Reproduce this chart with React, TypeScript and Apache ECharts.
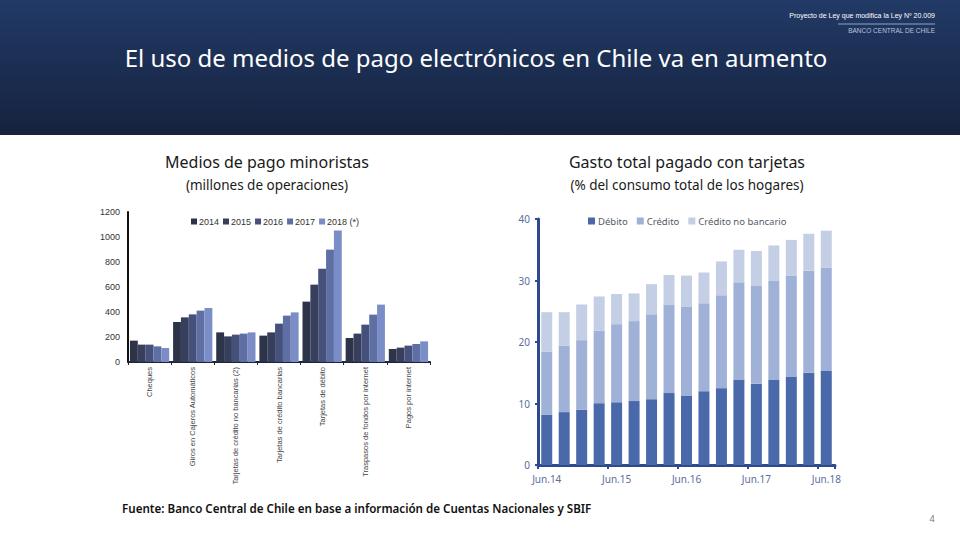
import React, { useEffect, useRef } from "react";
import * as echarts from "echarts";

const leftCategories = [
  "Cheques",
  "Giros en Cajeros Automáticos",
  "Tarjetas de crédito no bancarias (2)",
  "Tarjetas de crédito bancarias",
  "Tarjetas de débito",
  "Traspasos de fondos por internet",
  "Pagos por internet",
];
const leftYears = ["2014", "2015", "2016", "2017", "2018 (*)"];
const v2014 = [171, 320, 237, 211, 483, 192, 104];
const v2015 = [139, 357, 205, 237, 619, 227, 115];
const v2016 = [139, 381, 219, 307, 747, 299, 131];
const v2017 = [125, 411, 227, 371, 899, 379, 144];
const v2018 = [112, 432, 237, 397, 1053, 459, 165];
const leftColors = ["#2d3348", "#373f5d", "#46517b", "#5e6fa4", "#7b8dc7"];

const quarters = [
  "Jun.14", "Sep.14", "Dic.14", "Mar.15",
  "Jun.15", "Sep.15", "Dic.15", "Mar.16",
  "Jun.16", "Sep.16", "Dic.16", "Mar.17",
  "Jun.17", "Sep.17", "Dic.17", "Mar.18",
  "Jun.18",
];
const debito = [8.2, 8.6, 9.0, 10.05, 10.2, 10.4, 10.7, 11.7, 11.3, 12.0, 12.5, 13.9, 13.2, 13.9, 14.4, 15.0, 15.3];
const credito = [10.2, 10.8, 11.3, 11.75, 12.7, 13.0, 13.8, 14.3, 14.4, 14.3, 15.1, 15.8, 15.9, 16.0, 16.4, 16.6, 16.8];
const creditoNoBancario = [6.45, 5.45, 5.8, 5.6, 4.9, 4.5, 4.9, 4.9, 5.1, 5.0, 5.5, 5.3, 5.7, 5.8, 5.8, 6.0, 6.0];
const rightSeriesNames = ["Débito", "Crédito", "Crédito no bancario"];
const rightColors = ["#4a69aa", "#a0b1d7", "#c4cee5"];

const FONT = "'Noto Sans', 'Open Sans', sans-serif";
const ARIAL = "'Liberation Sans', Arial, sans-serif";

export default function App() {
  const ref = useRef<HTMLDivElement>(null);
  useEffect(() => {
    if (!ref.current) return;
    const chart = echarts.init(ref.current, null, { renderer: "svg" });
    const leftData = [v2014, v2015, v2016, v2017, v2018];
    const rightData = [debito, credito, creditoNoBancario];
    chart.setOption({
      animation: false,
      backgroundColor: "#ffffff",
      graphic: [
        {
          type: "rect",
          shape: { x: 0, y: 0, width: 960, height: 135 },
          style: {
            fill: new echarts.graphic.LinearGradient(0, 0, 0, 1, [
              { offset: 0, color: "#213a66" },
              { offset: 1, color: "#16223e" },
            ]),
          },
          z: 0,
        },
        {
          type: "text",
          x: 935, y: 15,
          style: { text: "Proyecto de Ley que modifica la Ley Nº 20.009", fill: "#ffffff", font: `7px ${ARIAL}`, textAlign: "right", textVerticalAlign: "middle" },
        },
        {
          type: "line",
          shape: { x1: 838, y1: 24, x2: 935, y2: 24 },
          style: { stroke: "#8ea5c9", lineWidth: 1 },
        },
        {
          type: "text",
          x: 935, y: 30,
          style: { text: "BANCO CENTRAL DE CHILE", fill: "#b9c4d8", font: `6.5px ${ARIAL}`, textAlign: "right", textVerticalAlign: "middle" },
        },
        {
          type: "text",
          x: 476, y: 57,
          style: { text: "El uso de medios de pago electrónicos en Chile va en aumento", fill: "#ffffff", font: `24px ${FONT}`, textAlign: "center", textVerticalAlign: "middle" },
        },
        {
          type: "text",
          x: 267, y: 162,
          style: { text: "Medios de pago minoristas", fill: "#1a1a1a", font: `16px ${FONT}`, textAlign: "center", textVerticalAlign: "middle" },
        },
        {
          type: "text",
          x: 267, y: 185,
          style: { text: "(millones de operaciones)", fill: "#1a1a1a", font: `13.5px ${FONT}`, textAlign: "center", textVerticalAlign: "middle" },
        },
        {
          type: "text",
          x: 687, y: 162,
          style: { text: "Gasto total pagado con tarjetas", fill: "#1a1a1a", font: `16px ${FONT}`, textAlign: "center", textVerticalAlign: "middle" },
        },
        {
          type: "text",
          x: 687, y: 185,
          style: { text: "(% del consumo total de los hogares)", fill: "#1a1a1a", font: `13.5px ${FONT}`, textAlign: "center", textVerticalAlign: "middle" },
        },
        {
          type: "text",
          x: 122, y: 508,
          style: { text: "Fuente: Banco Central de Chile en base a información de Cuentas Nacionales y SBIF", fill: "#111111", font: `600 11.6px ${FONT}`, textAlign: "left", textVerticalAlign: "middle" },
        },
        {
          type: "text",
          x: 932, y: 518,
          style: { text: "4", fill: "#777777", font: `9px ${FONT}`, textAlign: "center", textVerticalAlign: "middle" },
        },
      ],
      legend: [
        {
          data: leftYears,
          left: 186,
          top: 212,
          itemWidth: 6,
          itemHeight: 6,
          itemGap: 4,
          icon: "rect",
          textStyle: { fontSize: 9, color: "#333", fontFamily: ARIAL, padding: [0, 0, 0, -3] },
        },
        {
          data: rightSeriesNames,
          left: 583,
          top: 211,
          itemWidth: 7,
          itemHeight: 7,
          itemGap: 9,
          icon: "rect",
          textStyle: { fontSize: 9.5, color: "#555a66", fontFamily: FONT, padding: [0, 0, 0, -2] },
        },
      ],
      grid: [
        { left: 128, top: 212, width: 302, height: 150, containLabel: false },
        { left: 538, top: 219, width: 297, height: 246, containLabel: false },
      ],
      xAxis: [
        {
          type: "category",
          gridIndex: 0,
          data: leftCategories,
          axisLine: { lineStyle: { color: "#1c2438", width: 2 } },
          axisTick: { show: true, length: 3, lineStyle: { color: "#1c2438" } },
          axisLabel: { rotate: 90, fontSize: 7.5, color: "#444", fontFamily: ARIAL, margin: 5, interval: 0 },
        },
        {
          type: "category",
          gridIndex: 1,
          data: quarters,
          axisLine: { lineStyle: { color: "#2c4a8c", width: 3 } },
          axisTick: { show: true, length: 4, interval: 3, lineStyle: { color: "#2c4a8c", width: 2 } },
          axisLabel: { interval: 3, fontSize: 10, color: "#5a6e9e", fontFamily: FONT, margin: 9 },
        },
      ],
      yAxis: [
        {
          type: "value",
          gridIndex: 0,
          min: 0,
          max: 1200,
          interval: 200,
          axisLine: { show: true, lineStyle: { color: "#111111", width: 2 } },
          axisTick: { show: false },
          splitLine: { show: false },
          axisLabel: { fontSize: 9, color: "#333", fontFamily: ARIAL, margin: 8, formatter: (v: number) => String(v) },
        },
        {
          type: "value",
          gridIndex: 1,
          min: 0,
          max: 40,
          interval: 10,
          axisLine: { show: true, lineStyle: { color: "#2c4a8c", width: 3 } },
          axisTick: { show: true, length: 3, lineStyle: { color: "#2c4a8c", width: 2 } },
          splitLine: { show: false },
          axisLabel: { fontSize: 10, color: "#5a6e9e", fontFamily: FONT, margin: 8 },
        },
      ],
      series: [
        ...leftYears.map((name, i) => ({
          name,
          type: "bar",
          xAxisIndex: 0,
          yAxisIndex: 0,
          data: leftData[i],
          barGap: "0%",
          barCategoryGap: "9%",
          itemStyle: { color: leftColors[i] },
        })),
        ...rightSeriesNames.map((name, i) => ({
          name,
          type: "bar",
          xAxisIndex: 1,
          yAxisIndex: 1,
          stack: "total",
          data: rightData[i],
          barWidth: 11,
          itemStyle: { color: rightColors[i] },
        })),
      ],
    });
    return () => chart.dispose();
  }, []);
  return (
    <div
      ref={ref}
      style={{ position: "absolute", left: 0, top: 0, width: 960, height: 540 }}
    />
  );
}
